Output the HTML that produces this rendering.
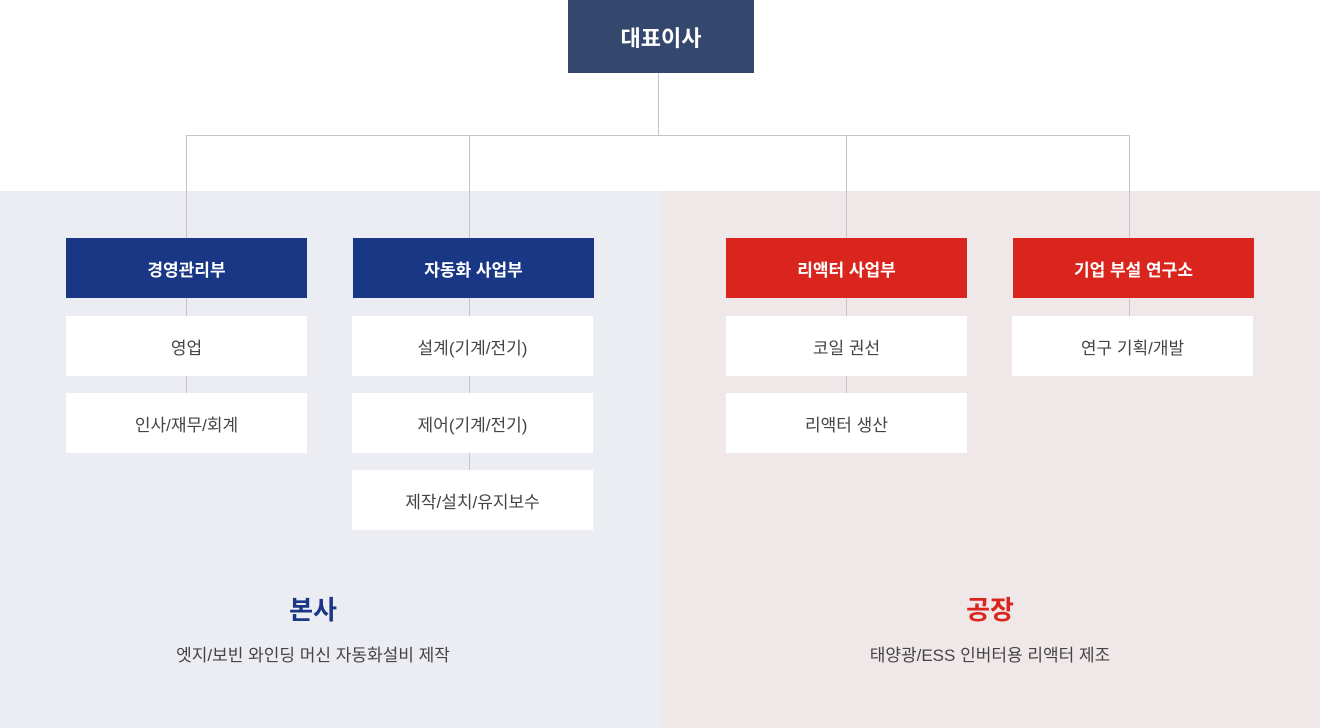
<!DOCTYPE html>
<html><head><meta charset="utf-8"><style>
*{margin:0;padding:0;box-sizing:border-box}
body{width:1320px;height:728px;position:relative;background:#fff;font-family:"Liberation Sans","Noto Sans CJK KR",sans-serif;overflow:hidden}
.a{position:absolute}
.l{position:absolute;background:#c4c4c6}
.b{position:absolute;display:flex;align-items:center;justify-content:center;color:#fff;font-size:17px;font-weight:bold}
.s{position:absolute;display:flex;align-items:center;justify-content:center;background:#fff;color:#444;font-size:17px;width:241px;height:60px}
.n{background:#193785}.r{background:#d9251d}
</style></head><body>
<div class="a" style="left:0;top:191px;width:660px;height:537px;background:#ecedf2"></div>
<div class="a" style="left:660px;top:191px;width:660px;height:537px;background:#f0e7e8"></div>
<div class="l" style="left:658px;top:73px;width:1px;height:62px"></div>
<div class="l" style="left:186px;top:135px;width:944px;height:1px"></div>
<div class="l" style="left:186px;top:135px;width:1px;height:258px"></div>
<div class="l" style="left:469px;top:135px;width:1px;height:335px"></div>
<div class="l" style="left:846px;top:135px;width:1px;height:258px"></div>
<div class="l" style="left:1129px;top:135px;width:1px;height:181px"></div>
<div class="b" style="left:568px;top:0;width:186px;height:73px;background:#34476d;font-size:22px">대표이사</div>
<div class="b n" style="left:66px;top:238px;width:241px;height:60px">경영관리부</div>
<div class="b n" style="left:353px;top:238px;width:241px;height:60px">자동화 사업부</div>
<div class="b r" style="left:726px;top:238px;width:241px;height:60px">리액터 사업부</div>
<div class="b r" style="left:1013px;top:238px;width:241px;height:60px">기업 부설 연구소</div>
<div class="s" style="left:66px;top:316px">영업</div>
<div class="s" style="left:66px;top:393px">인사/재무/회계</div>
<div class="s" style="left:352px;top:316px">설계(기계/전기)</div>
<div class="s" style="left:352px;top:393px">제어(기계/전기)</div>
<div class="s" style="left:352px;top:470px">제작/설치/유지보수</div>
<div class="s" style="left:726px;top:316px">코일 권선</div>
<div class="s" style="left:726px;top:393px">리액터 생산</div>
<div class="s" style="left:1012px;top:316px">연구 기획/개발</div>
<div class="a" style="left:113px;top:590px;width:400px;text-align:center;font-size:26px;font-weight:bold;color:#193785">본사</div>
<div class="a" style="left:113px;top:641px;width:400px;text-align:center;font-size:17px;color:#444">엣지/보빈 와인딩 머신 자동화설비 제작</div>
<div class="a" style="left:790px;top:590px;width:400px;text-align:center;font-size:26px;font-weight:bold;color:#d9251d">공장</div>
<div class="a" style="left:790px;top:641px;width:400px;text-align:center;font-size:17px;color:#444">태양광/ESS 인버터용 리액터 제조</div>
</body></html>
